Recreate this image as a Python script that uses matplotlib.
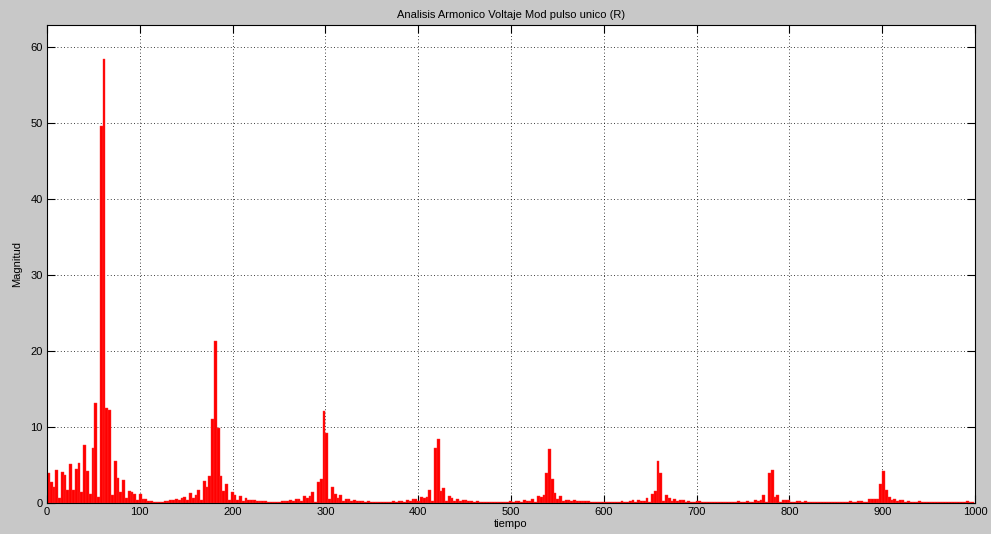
import matplotlib
matplotlib.use("Agg")
import matplotlib.pyplot as plt
import numpy as np

plt.rcParams['font.family'] = ['Liberation Sans', 'DejaVu Sans']
plt.rcParams['font.size'] = 8

# spectrum magnitude, one value per 3 Hz bin, bins centred at 1.5, 4.5, ... 997.5
bin_step = 3.0
magnitud = [
    3.9, 2.8, 2.1, 4.3, 0.6, 4.1, 3.7, 1.7, 5.1, 1.7,               # 1.5 - 28.5
    4.5, 5.3, 1.4, 7.6, 4.2, 1.2, 7.3, 13.2, 0.8, 49.6,             # 31.5 - 58.5
    58.4, 12.5, 12.3, 1.0, 5.5, 3.3, 1.5, 3.0, 0.6, 1.6,            # 61.5 - 88.5
    1.5, 1.2, 0.4, 1.2, 0.5, 0.5, 0.25, 0.2, 0.15, 0.12,            # 91.5 - 118.5
    0.12, 0.12, 0.2, 0.3, 0.35, 0.35, 0.57, 0.35, 0.7, 0.8,         # 121.5 - 148.5
    0.35, 1.3, 0.6, 1.1, 1.7, 0.35, 2.9, 2.1, 3.5, 11.0,            # 151.5 - 178.5
    21.3, 9.9, 3.6, 1.6, 2.5, 0.4, 1.4, 1.05, 0.4, 0.9,             # 181.5 - 208.5
    0.25, 0.6, 0.4, 0.4, 0.4, 0.25, 0.3, 0.25, 0.2, 0.15,           # 211.5 - 238.5
    0.15, 0.15, 0.15, 0.15, 0.2, 0.25, 0.2, 0.45, 0.25, 0.5,        # 241.5 - 268.5
    0.57, 0.25, 0.9, 0.6, 0.9, 1.5, 0.15, 2.8, 3.1, 12.1,           # 271.5 - 298.5
    9.2, 0.5, 2.15, 1.2, 0.6, 1.0, 0.25, 0.5, 0.5, 0.2,             # 301.5 - 328.5
    0.45, 0.2, 0.3, 0.3, 0.15, 0.25, 0.15, 0.15, 0.15, 0.15,        # 331.5 - 358.5
    0.15, 0.15, 0.15, 0.15, 0.25, 0.15, 0.2, 0.2, 0.15, 0.4,        # 361.5 - 388.5
    0.25, 0.5, 0.55, 0.2, 0.8, 0.6, 0.8, 1.75, 0.2, 7.2,            # 391.5 - 418.5
    8.4, 1.6, 2.0, 0.25, 0.9, 0.65, 0.2, 0.5, 0.2, 0.35,            # 421.5 - 448.5
    0.35, 0.2, 0.3, 0.15, 0.3, 0.15, 0.15, 0.15, 0.15, 0.15,        # 451.5 - 478.5
    0.15, 0.15, 0.15, 0.15, 0.15, 0.15, 0.25, 0.15, 0.2, 0.2,       # 481.5 - 508.5
    0.15, 0.45, 0.25, 0.3, 0.5, 0.15, 0.9, 0.85, 1.0, 4.0,          # 511.5 - 538.5
    7.1, 3.15, 1.35, 0.55, 0.9, 0.2, 0.45, 0.45, 0.2, 0.35,         # 541.5 - 568.5
    0.2, 0.2, 0.2, 0.2, 0.2, 0.15, 0.15, 0.15, 0.15, 0.15,          # 571.5 - 598.5
    0.15, 0.15, 0.15, 0.15, 0.15, 0.15, 0.2, 0.15, 0.15, 0.2,       # 601.5 - 628.5
    0.35, 0.15, 0.4, 0.3, 0.3, 0.65, 0.15, 1.25, 1.6, 5.5,          # 631.5 - 658.5
    4.0, 0.25, 1.0, 0.65, 0.2, 0.5, 0.25, 0.35, 0.35, 0.15,         # 661.5 - 688.5
    0.25, 0.15, 0.15, 0.25, 0.25, 0.15, 0.15, 0.15, 0.15, 0.15,     # 691.5 - 718.5
    0.15, 0.15, 0.15, 0.15, 0.15, 0.15, 0.15, 0.15, 0.25, 0.15,     # 721.5 - 748.5
    0.15, 0.3, 0.15, 0.15, 0.4, 0.3, 0.4, 1.0, 0.15, 4.0,           # 751.5 - 778.5
    4.4, 0.8, 1.0, 0.15, 0.4, 0.4, 0.35, 0.15, 0.15, 0.2,           # 781.5 - 808.5
    0.2, 0.15, 0.2, 0.15, 0.15, 0.15, 0.15, 0.15, 0.15, 0.15,       # 811.5 - 838.5
    0.15, 0.15, 0.15, 0.15, 0.15, 0.15, 0.15, 0.15, 0.25, 0.15,     # 841.5 - 868.5
    0.15, 0.25, 0.2, 0.15, 0.15, 0.5, 0.5, 0.5, 0.5, 2.5,           # 871.5 - 898.5
    4.25, 1.7, 0.85, 0.35, 0.5, 0.2, 0.35, 0.35, 0.15, 0.2,         # 901.5 - 928.5
    0.15, 0.15, 0.15, 0.2, 0.15, 0.15, 0.15, 0.15, 0.15, 0.15,      # 931.5 - 958.5
    0.15, 0.15, 0.15, 0.15, 0.15, 0.15, 0.15, 0.15, 0.15, 0.15,     # 961.5 - 988.5
    0.25, 0.15, 0.15,                                               # 991.5 - 997.5
]
freq = bin_step / 2 + bin_step * np.arange(len(magnitud))

x_ticks = list(range(0, 1001, 100))
y_ticks = list(range(0, 61, 10))

fig = plt.figure(figsize=(9.91, 5.34), dpi=100, facecolor='#c8c8c8')
ax = fig.add_axes([47 / 991, 1 - 503 / 534, 928 / 991, 478 / 534])
ax.set_facecolor('white')

ax.bar(freq, magnitud, width=bin_step, color='#ff0000', edgecolor='#ff3030',
       linewidth=0.3, zorder=3)

ax.set_xlim(0, 1000)
ax.set_ylim(0, 62.9)
ax.set_xticks(x_ticks)
ax.set_yticks(y_ticks)
ax.grid(True, color='k', linestyle=(0, (1, 3)), linewidth=0.6, zorder=1)
ax.tick_params(direction='in', length=5.5, width=0.8, top=True, right=True,
               labelsize=8, pad=3)
for s in ax.spines.values():
    s.set_linewidth(0.8)
    s.set_zorder(4)

ax.set_title('Analisis Armonico Voltaje Mod pulso unico (R)', fontsize=8, pad=5)
ax.set_xlabel('tiempo', fontsize=8, labelpad=1)
ax.set_ylabel('Magnitud', fontsize=8, labelpad=6)

fig.savefig('out.png', dpi=100, facecolor=fig.get_facecolor())
